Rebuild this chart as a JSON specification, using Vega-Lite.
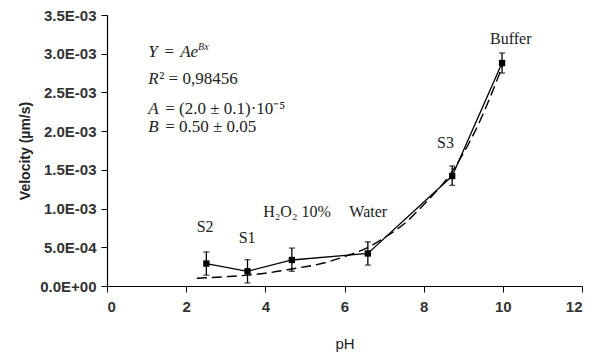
{
  "$schema": "https://vega.github.io/schema/vega-lite/v6.json",
  "width": 475,
  "height": 271,
  "autosize": {"type": "none"},
  "padding": {"left": 107, "top": 15, "right": 13, "bottom": 70},
  "background": "white",
  "config": {
    "view": {"stroke": null},
    "font": "Liberation Sans",
    "axis": {"labelOverlap": false}
  },
  "datasets": {
    "pts": [
      {"pH": 2.51, "v": 0.00029, "lo": 0.00014, "hi": 0.00044},
      {"pH": 3.55, "v": 0.00019, "lo": 0.00004, "hi": 0.00034},
      {"pH": 4.67, "v": 0.000336, "lo": 0.00019, "hi": 0.00049},
      {"pH": 6.59, "v": 0.00042, "lo": 0.00027, "hi": 0.00057},
      {"pH": 8.72, "v": 0.00142, "lo": 0.0013, "hi": 0.00155},
      {"pH": 9.98, "v": 0.00288, "lo": 0.00275, "hi": 0.00301}
    ],
    "fit": [
      {"pH": 2.27, "v": 0.0001},
      {"pH": 3.0, "v": 0.00012},
      {"pH": 3.55, "v": 0.00014},
      {"pH": 4.0, "v": 0.000165},
      {"pH": 4.67, "v": 0.00022},
      {"pH": 5.5, "v": 0.0003},
      {"pH": 6.0, "v": 0.00038},
      {"pH": 6.6, "v": 0.0005},
      {"pH": 7.0, "v": 0.00062},
      {"pH": 7.5, "v": 0.0008},
      {"pH": 8.0, "v": 0.00105},
      {"pH": 8.72, "v": 0.00148},
      {"pH": 9.3, "v": 0.002},
      {"pH": 10.0, "v": 0.00285}
    ],
    "labels": [
      {"pH": 2.48, "v": 0.00076, "t": "S2"},
      {"pH": 3.54, "v": 0.00062, "t": "S1"},
      {"pH": 4.8, "v": 0.00096, "t": "H₂O₂ 10%"},
      {"pH": 6.6, "v": 0.00096, "t": "Water"},
      {"pH": 8.55, "v": 0.00185, "t": "S3"},
      {"pH": 10.2, "v": 0.00319, "t": "Buffer"}
    ],
    "eqItalic": [
      {"pH": 1.04, "v": 0.003022, "t": "Y"},
      {"pH": 1.85, "v": 0.003022, "t": "Ae"},
      {"pH": 1.04, "v": 0.002673, "t": "R"},
      {"pH": 1.04, "v": 0.002286, "t": "A"},
      {"pH": 1.04, "v": 0.002054, "t": "B"}
    ],
    "eqSup": [
      {"pH": 2.3, "v": 0.00309, "t": "Bx"}
    ],
    "eqUpright": [
      {"pH": 1.45, "v": 0.003022, "t": "="},
      {"pH": 1.32, "v": 0.002673, "t": "² = 0,98456"},
      {"pH": 1.47, "v": 0.002286, "t": "= (2.0 ± 0.1)·10⁻⁵"},
      {"pH": 1.47, "v": 0.002054, "t": "= 0.50 ± 0.05"}
    ]
  },
  "encoding": {
    "x": {
      "field": "pH", "type": "quantitative",
      "scale": {"domain": [0, 12], "nice": false},
      "axis": {
        "values": [0, 2, 4, 6, 8, 10, 12], "grid": false, "title": "pH",
        "domainColor": "black", "tickColor": "black", "domainWidth": 1.2,
        "tickSize": 6, "labelFontSize": 15, "labelFontWeight": "bold", "labelColor": "#333",
        "labelPadding": 7, "titleFontSize": 15, "titleFontWeight": "normal", "titlePadding": 22,
        "titleColor": "#222"
      }
    },
    "y": {
      "field": "v", "type": "quantitative",
      "scale": {"domain": [0, 0.0035], "nice": false},
      "axis": {
        "tickCount": 7,
        "grid": false, "title": "Velocity (µm/s)",
        "labelExpr": "replace(replace(format(datum.value, '.1e'), 'e-', 'E-0'), 'e+', 'E+0')",
        "domainColor": "black", "tickColor": "black", "domainWidth": 1.2,
        "tickSize": 6, "labelFontSize": 15, "labelFontWeight": "bold", "labelColor": "#333",
        "labelPadding": 5, "titleFontSize": 14, "titleFontWeight": "bold", "titlePadding": 7,
        "titleColor": "#222"
      }
    }
  },
  "layer": [
    {
      "data": {"name": "fit"},
      "mark": {"type": "line", "color": "black", "strokeWidth": 1.4, "strokeDash": [10, 5], "interpolate": "monotone"}
    },
    {
      "data": {"name": "pts"},
      "mark": {"type": "line", "color": "black", "strokeWidth": 1.3}
    },
    {
      "data": {"name": "pts"},
      "mark": {"type": "rule", "color": "black", "strokeWidth": 1.3},
      "encoding": {
        "y": {"field": "lo", "type": "quantitative"},
        "y2": {"field": "hi"}
      }
    },
    {
      "data": {"name": "pts"},
      "mark": {"type": "tick", "orient": "horizontal", "color": "black", "size": 6, "thickness": 1.3},
      "encoding": {
        "y": {"field": "lo", "type": "quantitative"}
      }
    },
    {
      "data": {"name": "pts"},
      "mark": {"type": "tick", "orient": "horizontal", "color": "black", "size": 6, "thickness": 1.3},
      "encoding": {
        "y": {"field": "hi", "type": "quantitative"}
      }
    },
    {
      "data": {"name": "pts"},
      "mark": {"type": "point", "shape": "square", "filled": true, "color": "black", "size": 40, "opacity": 1}
    },
    {
      "data": {"name": "labels"},
      "mark": {"type": "text", "font": "Liberation Serif", "fontSize": 16, "color": "#222", "align": "center", "baseline": "middle"},
      "encoding": {
        "text": {"field": "t"}
      }
    },
    {
      "data": {"name": "eqItalic"},
      "mark": {"type": "text", "font": "Liberation Serif", "fontSize": 17, "fontStyle": "italic", "color": "#222", "align": "left", "baseline": "middle"},
      "encoding": {
        "text": {"field": "t"}
      }
    },
    {
      "data": {"name": "eqSup"},
      "mark": {"type": "text", "font": "Liberation Serif", "fontSize": 10, "fontStyle": "italic", "color": "#222", "align": "left", "baseline": "middle"},
      "encoding": {
        "text": {"field": "t"}
      }
    },
    {
      "data": {"name": "eqUpright"},
      "mark": {"type": "text", "font": "Liberation Serif", "fontSize": 17, "color": "#222", "align": "left", "baseline": "middle"},
      "encoding": {
        "text": {"field": "t"}
      }
    }
  ]
}
